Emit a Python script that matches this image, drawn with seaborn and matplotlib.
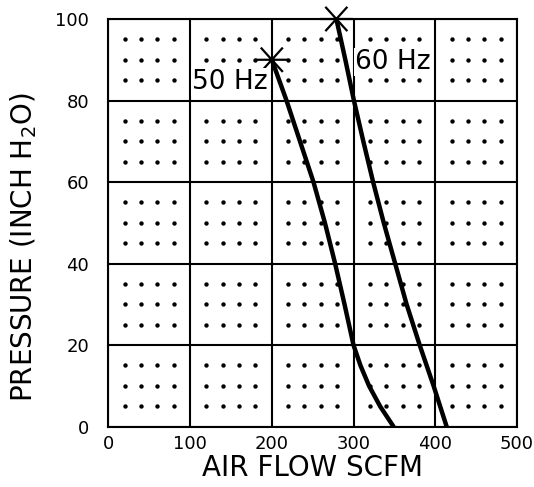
"""
plot.py

Fan curve: pressure against air flow at 50 Hz and 60 Hz,
drawn on a dotted engineering grid.
"""

import matplotlib
matplotlib.use("Agg")
import matplotlib.pyplot as plt
from matplotlib.path import Path
import seaborn as sns


# Chart data

x_ticks = [0, 100, 200, 300, 400, 500]
y_ticks = [0, 20, 40, 60, 80, 100]

# 50 Hz curve (top to bottom)
flow_50 = [200, 218, 234.5, 251, 265, 277.5, 289, 300, 308.5, 319, 332.5, 349]
pressure_50 = [90, 80, 70, 60, 50, 40, 30, 20, 15, 10, 5, 0]

# 60 Hz curve
flow_60 = [279, 290, 300.5, 312, 324, 337, 351, 365, 381, 398, 414]
pressure_60 = [100, 90, 80, 70, 60, 50, 40, 30, 20, 10, 0]

# end points marked with a star
star_flow = [200, 279]
star_pressure = [90, 100]

curve_labels = ["50 Hz", "60 Hz"]
label_flow = [102, 302]
label_pressure = [84.5, 89.5]

# dot pattern inside every grid cell
dot_offset_x = [20, 40, 60, 80]
dot_offset_y = [5, 10, 15]
dot_x = [cx + dx for cx in x_ticks[:-1] for dx in dot_offset_x for cy in y_ticks[:-1] for dy in dot_offset_y]
dot_y = [cy + dy for cx in x_ticks[:-1] for dx in dot_offset_x for cy in y_ticks[:-1] for dy in dot_offset_y]


# Figure setup

sns.set_style("white")
plt.rcParams["font.family"] = ["DejaVu Sans"]
plt.rcParams["text.color"] = "black"
plt.rcParams["axes.labelcolor"] = "black"

fig = plt.figure(figsize=(5.34, 4.87), dpi=100)
ax = fig.add_axes([0.203, 0.124, 0.765, 0.837])

# dots
sns.scatterplot(x=dot_x, y=dot_y, ax=ax, color="black", s=10,
                linewidth=0, zorder=2)

# curves
sns.lineplot(x=flow_50, y=pressure_50, ax=ax, sort=False, estimator=None,
             color="black", linewidth=3.2, zorder=4)
sns.lineplot(x=flow_60, y=pressure_60, ax=ax, sort=False, estimator=None,
             color="black", linewidth=3.2, zorder=4)

# star marker: horizontal bar with two crossing diagonals
star = Path(
    [(-1, 0), (1, 0), (-0.67, -0.74), (0.67, 0.74), (-0.67, 0.74), (0.67, -0.74)],
    [Path.MOVETO, Path.LINETO, Path.MOVETO, Path.LINETO, Path.MOVETO, Path.LINETO],
)
sns.scatterplot(x=star_flow, y=star_pressure, ax=ax, marker=star, s=560,
                facecolors="none", edgecolor="black", linewidth=1.6,
                zorder=5, clip_on=False)

for text, fx, fy in zip(curve_labels, label_flow, label_pressure):
    ax.text(fx, fy, text, fontsize=19, ha="left", va="center",
            zorder=6, bbox=dict(facecolor="white", edgecolor="none", pad=0.5))

# grid and axes
ax.set_xlim(0, 500)
ax.set_ylim(0, 100)
ax.set_xticks(x_ticks)
ax.set_yticks(y_ticks)
ax.grid(True, color="black", linewidth=1.5, zorder=1)
ax.set_axisbelow(True)
for spine in ax.spines.values():
    spine.set_color("black")
    spine.set_linewidth(1.5)
ax.tick_params(axis="both", length=0, labelsize=13, colors="black")
ax.tick_params(axis="x", pad=6)
ax.tick_params(axis="y", pad=14)

ax.set_xlabel("AIR FLOW SCFM", fontsize=20, labelpad=1)
ax.set_ylabel("PRESSURE (INCH H$_2$O)", fontsize=20)
ax.yaxis.set_label_coords(-0.17, 0.44)

fig.savefig("out.png", dpi=100)
